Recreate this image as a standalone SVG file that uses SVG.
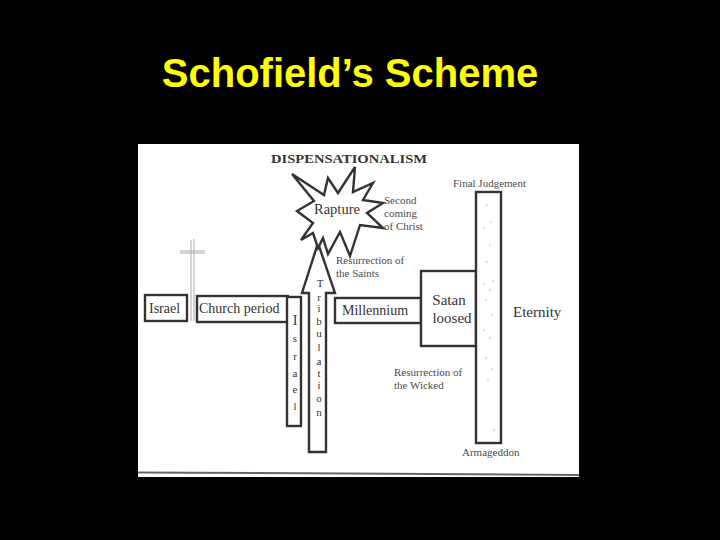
<svg xmlns="http://www.w3.org/2000/svg" width="720" height="540" viewBox="0 0 720 540">
<style>
.box{fill:#fff;stroke:#333;stroke-width:2.400}
.t{font-family:"Liberation Serif",serif;fill:#333}
.m{font-size:14px}
.b{font-size:15px}
.s{font-size:11px;fill:#4a4a4a}
.v{font-size:11px;text-anchor:middle}
.d{fill:#aaa}
</style>
<rect width="720" height="540" fill="#000"/>
<text x="350" y="87" text-anchor="middle" font-family="'Liberation Sans',sans-serif" font-weight="700" font-size="40" fill="#ffff00">Schofield’s Scheme</text>
<rect x="138" y="144" width="441" height="333" fill="#fff"/>
<path d="M138 472.500L350 473.500L579 475" stroke="#666" stroke-width="2" fill="none"/>
<text class="t" x="271" y="163" font-size="13" font-weight="700" textLength="156" lengthAdjust="spacingAndGlyphs">DISPENSATIONALISM</text>
<g id="cross" stroke="#aaa" fill="none" stroke-width="1">
<path d="M191 240V321M194 239V321"/>
<path d="M180 251H205M180 253H205"/>
</g>
<g id="israel"><rect class="box" x="145" y="295" width="42" height="26"/><text class="t m" x="149" y="313">Israel</text></g>
<g id="church"><rect class="box" x="197" y="296" width="91" height="26"/><text class="t m" x="199" y="313">Church period</text></g>
<g id="isreal-column"><rect class="box" x="287" y="297" width="14" height="129"/>
<g class="t v"><text x="295" y="325" font-size="14">I</text><text x="295" y="342">s</text><text x="295" y="360">r</text><text x="295" y="377">a</text><text x="295" y="393">e</text><text x="295" y="410">l</text></g></g>
<g id="tribulation"><path class="box" d="M318 243L335 293H326V452H309V293H302Z"/>
<g class="t v"><text x="320" y="287">T</text><text x="319" y="301">r</text><text x="319" y="312">i</text><text x="319" y="325">b</text><text x="319" y="337">u</text><text x="319" y="351">l</text><text x="319" y="365">a</text><text x="319" y="377">t</text><text x="319" y="389">i</text><text x="319" y="402">o</text><text x="319" y="416">n</text></g></g>
<g id="millennium"><rect class="box" x="335" y="298" width="86" height="25"/><text class="t m" x="342" y="315">Millennium</text></g>
<g id="satan"><rect class="box" x="421" y="271" width="55" height="75"/><text class="t b" text-anchor="middle" x="449" y="305">Satan</text><text class="t b" text-anchor="middle" x="452" y="323">loosed</text></g>
<g id="eternity-bar"><rect class="box" x="476" y="192" width="25" height="251"/>
<g class="d"><circle cx="487" cy="205" r=".7"/><circle cx="491" cy="222" r=".7"/><circle cx="484" cy="228" r=".7"/><circle cx="490" cy="245" r=".7"/><circle cx="487" cy="262" r=".7"/><circle cx="493" cy="281" r=".7"/><circle cx="484" cy="284" r=".7"/><circle cx="490" cy="290" r=".7"/><circle cx="486" cy="300" r=".7"/><circle cx="492" cy="315" r=".7"/><circle cx="484" cy="330" r=".7"/><circle cx="490" cy="338" r=".7"/><circle cx="486" cy="358" r=".7"/><circle cx="492" cy="369" r=".7"/><circle cx="488" cy="380" r=".7"/><circle cx="494" cy="430" r=".7"/></g></g>
<g id="rapture"><path d="M292 174L324 195L328 178L338 193L355 167L353 192L373 183L363 200L383 203L367 213L383 228L360 225L350 256L340 232L328 254L323 238L318 248L313 233L301 240L313 223L297 211L314 201Z" fill="#fff" stroke="#333" stroke-width="2.400" stroke-linejoin="miter"/><text class="t" x="314" y="214" font-size="14.500">Rapture</text></g>
<g id="labels">
<text class="t s" x="384" y="204">Second</text><text class="t s" x="384" y="217">coming</text><text class="t s" x="384" y="230">of Christ</text>
<text class="t s" x="336" y="264">Resurrection of</text><text class="t s" x="336" y="277">the Saints</text>
<text class="t s" x="394" y="376">Resurrection of</text><text class="t s" x="394" y="389">the Wicked</text>
<text class="t s" x="453" y="187">Final Judgement</text>
<text class="t s" x="462" y="456">Armageddon</text>
<text class="t" x="513" y="317" font-size="15">Eternity</text>
</g>
</svg>
